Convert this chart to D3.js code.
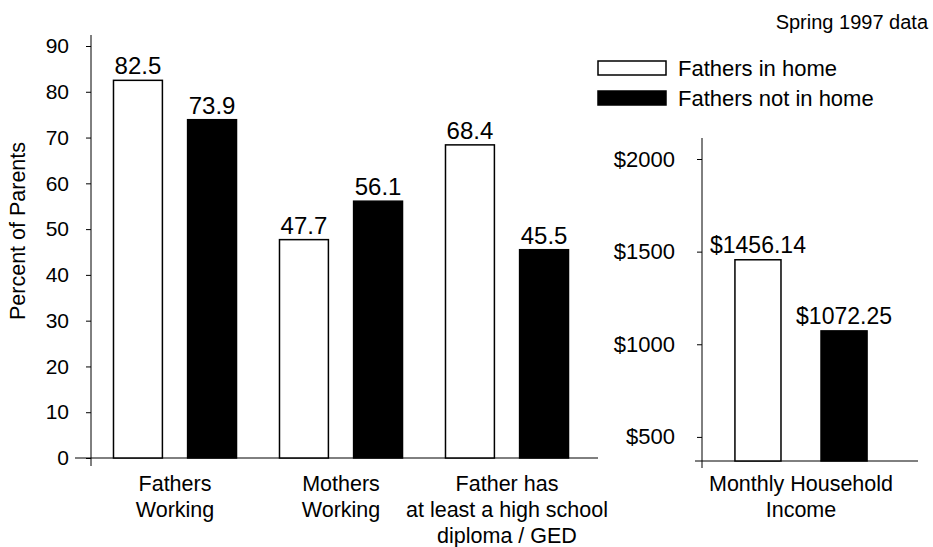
<!DOCTYPE html>
<html>
<head>
<meta charset="utf-8">
<script src="https://cdn.jsdelivr.net/npm/d3@7"></script>
<style>
  body { margin: 0; background: #fff; }
  svg { display: block; font-family: "Liberation Sans", Arial, sans-serif; }
  .tick line { stroke: #000; }
  .tick text { fill: #000; }
</style>
</head>
<body>
<div id="chart"></div>
<script>
// categories and values
const categories = ['Fathers Working', 'Mothers Working', 'Father has diploma'];
const categoryLines = [
  ['Fathers', 'Working'],
  ['Mothers', 'Working'],
  ['Father has', 'at least a high school', 'diploma / GED'],
];
const series = ['Fathers in home', 'Fathers not in home'];
const inHome = [82.5, 47.7, 68.4];
const notInHome = [73.9, 56.1, 45.5];
const pctTicks = [0, 10, 20, 30, 40, 50, 60, 70, 80, 90];

const incomeCategory = ['Monthly Household', 'Income'];
const incomeValues = [1456.14, 1072.25];
const incomeLabels = ['$1456.14', '$1072.25'];
const incomeTicks = [500, 1000, 1500, 2000];

const colors = ['#fff', '#000'];

const width = 933;
const height = 547;

const svg = d3
  .select('#chart')
  .append('svg')
  .attr('width', width)
  .attr('height', height);

// ---- left panel: percent of parents ----
const x0 = d3.scaleBand().domain(categories).range([92, 590]);
const x1 = d3
  .scaleBand()
  .domain(series)
  .range([0, x0.bandwidth()])
  .paddingInner(0.34)
  .paddingOuter(0.29);
const y = d3.scaleLinear().domain([0, 90]).range([458, 46]);

const rows = categories.map((c, i) => ({
  category: c,
  values: [
    { key: series[0], value: inHome[i] },
    { key: series[1], value: notInHome[i] },
  ],
}));

const yAxis = svg
  .append('g')
  .attr('transform', 'translate(91,0)')
  .call(d3.axisLeft(y).tickValues(pctTicks).tickSize(5).tickSizeOuter(0).tickPadding(17));
yAxis.select('.domain').remove();
yAxis.selectAll('text').style('font-size', '21px');

svg.append('line')
  .attr('x1', 91).attr('x2', 91)
  .attr('y1', 35).attr('y2', 466)
  .attr('stroke', '#000');
svg.append('line')
  .attr('x1', 75).attr('x2', 598)
  .attr('y1', y(0)).attr('y2', y(0))
  .attr('stroke', '#000');

const groups = svg
  .append('g')
  .selectAll('g')
  .data(rows)
  .join('g')
  .attr('transform', (d) => `translate(${x0(d.category)},0)`);

groups
  .selectAll('rect')
  .data((d) => d.values)
  .join('rect')
  .attr('x', (d) => x1(d.key))
  .attr('y', (d) => y(d.value))
  .attr('width', x1.bandwidth())
  .attr('height', (d) => y(0) - y(d.value))
  .attr('fill', (d, i) => colors[i])
  .attr('stroke', '#000')
  .attr('stroke-width', 1.5);

groups
  .selectAll('text.value')
  .data((d) => d.values)
  .join('text')
  .attr('class', 'value')
  .attr('x', (d) => x1(d.key) + x1.bandwidth() / 2)
  .attr('y', (d) => y(d.value) - 6)
  .attr('text-anchor', 'middle')
  .style('font-size', '24px')
  .text((d) => d.value.toFixed(1));

// category labels under the bars
categories.forEach((c, i) => {
  const t = svg
    .append('text')
    .attr('x', x0(c) + x0.bandwidth() / 2)
    .attr('y', 491)
    .attr('text-anchor', 'middle')
    .style('font-size', '21.5px');
  categoryLines[i].forEach((line, j) => {
    t.append('tspan')
      .attr('x', x0(c) + x0.bandwidth() / 2)
      .attr('dy', j === 0 ? 0 : 26)
      .text(line);
  });
});

svg.append('text')
  .attr('transform', 'translate(25,231) rotate(-90)')
  .attr('text-anchor', 'middle')
  .style('font-size', '21.5px')
  .text('Percent of Parents');

// ---- right panel: monthly household income ----
const xr0 = d3.scaleBand().domain(['income']).range([716, 886]);
const xr1 = d3
  .scaleBand()
  .domain(series)
  .range([0, xr0.bandwidth()])
  .paddingInner(0.465)
  .paddingOuter(0.22);
const yr = d3.scaleLinear().domain([370, 2000]).range([461, 159]);

const yrAxis = svg
  .append('g')
  .attr('transform', 'translate(702,0)')
  .call(
    d3.axisLeft(yr)
      .tickValues(incomeTicks)
      .tickSize(5)
      .tickSizeOuter(0)
      .tickPadding(22)
      .tickFormat((d) => '$' + d)
  );
yrAxis.select('.domain').remove();
yrAxis.selectAll('text').style('font-size', '22px');

svg.append('line')
  .attr('x1', 702).attr('x2', 702)
  .attr('y1', 138).attr('y2', 468)
  .attr('stroke', '#000');
svg.append('line')
  .attr('x1', 695).attr('x2', 918)
  .attr('y1', yr(370)).attr('y2', yr(370))
  .attr('stroke', '#000');

const income = series.map((s, i) => ({ key: s, value: incomeValues[i], label: incomeLabels[i] }));

const incomeG = svg.append('g').attr('transform', `translate(${xr0('income')},0)`);

incomeG
  .selectAll('rect')
  .data(income)
  .join('rect')
  .attr('x', (d) => xr1(d.key))
  .attr('y', (d) => yr(d.value))
  .attr('width', xr1.bandwidth())
  .attr('height', (d) => yr(370) - yr(d.value))
  .attr('fill', (d, i) => colors[i])
  .attr('stroke', '#000')
  .attr('stroke-width', 1.5);

incomeG
  .selectAll('text')
  .data(income)
  .join('text')
  .attr('x', (d) => xr1(d.key) + xr1.bandwidth() / 2)
  .attr('y', (d) => yr(d.value) - 7)
  .attr('text-anchor', 'middle')
  .style('font-size', '23px')
  .text((d) => d.label);

const incText = svg
  .append('text')
  .attr('x', xr0('income') + xr0.bandwidth() / 2)
  .attr('y', 491)
  .attr('text-anchor', 'middle')
  .style('font-size', '21.5px');
incomeCategory.forEach((line, j) => {
  incText.append('tspan')
    .attr('x', xr0('income') + xr0.bandwidth() / 2)
    .attr('dy', j === 0 ? 0 : 26)
    .text(line);
});

// ---- legend + note ----
const legend = svg
  .append('g')
  .selectAll('g')
  .data(series)
  .join('g')
  .attr('transform', (d, i) => `translate(598,${61 + i * 30})`);

legend.append('rect')
  .attr('width', 68)
  .attr('height', 14)
  .attr('fill', (d, i) => colors[i])
  .attr('stroke', '#000')
  .attr('stroke-width', 1.5);

legend.append('text')
  .attr('x', 80)
  .attr('y', 15)
  .style('font-size', '22px')
  .text((d) => d);

svg.append('text')
  .attr('x', 928)
  .attr('y', 29)
  .attr('text-anchor', 'end')
  .style('font-size', '20px')
  .text('Spring 1997 data');
</script>
</body>
</html>
